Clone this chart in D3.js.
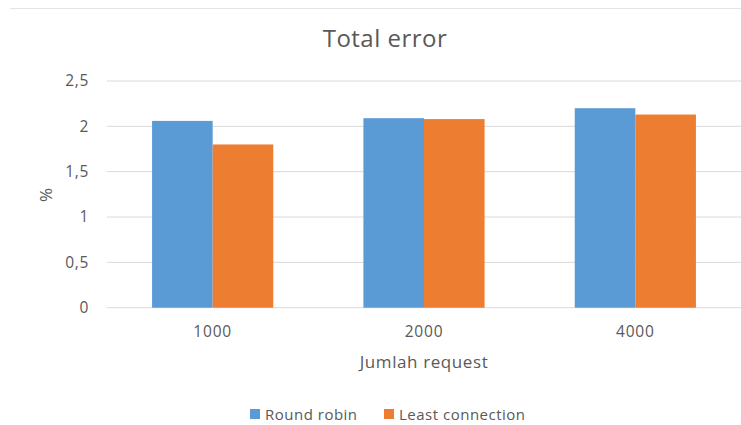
<!DOCTYPE html>
<html>
<head>
<meta charset="utf-8">
<script src="https://cdn.jsdelivr.net/npm/d3@7"></script>
<style>
  html, body { margin: 0; padding: 0; background: #fff; }
  svg { display: block; font-family: "Open Sans", Lato, sans-serif; }
</style>
</head>
<body>
<svg id="chart" width="741" height="425"></svg>
<script>
// Data
const categories = ["1000", "2000", "4000"];
const seriesNames = ["Round robin", "Least connection"];
const roundRobin = [2.06, 2.09, 2.20];
const leastConnection = [1.80, 2.08, 2.13];
const yTicks = [0, 0.5, 1, 1.5, 2, 2.5];
const yTickLabels = ["0", "0,5", "1", "1,5", "2", "2,5"];
const colors = ["#5B9BD5", "#ED7D31"];

const svg = d3.select("#chart");
const W = 741, H = 425;
const plot = { left: 107, right: 741, top: 81, bottom: 307.7 };
const textColor = "#595959";

// faint rule along the top edge
svg.append("line")
  .attr("x1", 10).attr("x2", W).attr("y1", 8.5).attr("y2", 8.5)
  .attr("stroke", "#e4e4e4").attr("stroke-width", 1);

const x0 = d3.scaleBand().domain(categories).range([plot.left, plot.right]).paddingInner(0).paddingOuter(0);
const groupW = x0.bandwidth() * 121 / 211;
const x1 = d3.scaleBand().domain(seriesNames).range([0, groupW]).padding(0);
const y = d3.scaleLinear().domain([0, 2.5]).range([plot.bottom, plot.top]);

// gridlines
svg.append("g").selectAll("line").data(yTicks).join("line")
  .attr("x1", plot.left).attr("x2", plot.right)
  .attr("y1", d => y(d)).attr("y2", d => y(d))
  .attr("stroke", "#d9d9d9").attr("stroke-width", 1);

// y tick labels
svg.append("g").selectAll("text").data(yTicks).join("text")
  .attr("x", 89).attr("y", d => y(d))
  .attr("dy", "0.35em")
  .attr("text-anchor", "end")
  .attr("font-size", 15.5).attr("letter-spacing", 0.7).attr("fill", textColor)
  .text((d, i) => yTickLabels[i]);

// bars
const rows = categories.map((c, i) => ({ cat: c, vals: [roundRobin[i], leastConnection[i]] }));
const groups = svg.append("g").selectAll("g").data(rows).join("g")
  .attr("transform", d => `translate(${x0(d.cat) + (x0.bandwidth() - groupW) / 2},0)`);
groups.selectAll("rect").data(d => d.vals.map((v, j) => ({ v, s: seriesNames[j], j })))
  .join("rect")
  .attr("x", d => x1(d.s))
  .attr("width", x1.bandwidth())
  .attr("y", d => y(d.v))
  .attr("height", d => y(0) - y(d.v))
  .attr("fill", d => colors[d.j]);

// x tick labels
svg.append("g").selectAll("text").data(categories).join("text")
  .attr("x", d => x0(d) + x0.bandwidth() / 2)
  .attr("y", 337)
  .attr("text-anchor", "middle")
  .attr("font-size", 15.5).attr("letter-spacing", 0.8).attr("fill", textColor)
  .text(d => d);

// title
svg.append("text")
  .attr("x", 385).attr("y", 47)
  .attr("text-anchor", "middle")
  .attr("font-size", 24).attr("letter-spacing", 0.5).attr("fill", textColor)
  .text("Total error");

// axis titles
svg.append("text")
  .attr("x", 424).attr("y", 368)
  .attr("text-anchor", "middle")
  .attr("font-size", 17).attr("letter-spacing", 0.6).attr("fill", textColor)
  .text("Jumlah request");

svg.append("text")
  .attr("transform", "translate(52,195) rotate(-90)")
  .attr("text-anchor", "middle")
  .attr("font-size", 17).attr("fill", textColor)
  .text("%");

// legend
const legendItems = [
  { name: seriesNames[0], sx: 250, tx: 265 },
  { name: seriesNames[1], sx: 384, tx: 399 }
];
const lg = svg.append("g").selectAll("g").data(legendItems).join("g");
lg.append("rect")
  .attr("x", d => d.sx).attr("y", 409).attr("width", 10).attr("height", 10)
  .attr("fill", (d, i) => colors[i]);
lg.append("text")
  .attr("x", d => d.tx).attr("y", 419.5)
  .attr("font-size", 15).attr("letter-spacing", 0.5).attr("fill", textColor)
  .text(d => d.name);
</script>
</body>
</html>
